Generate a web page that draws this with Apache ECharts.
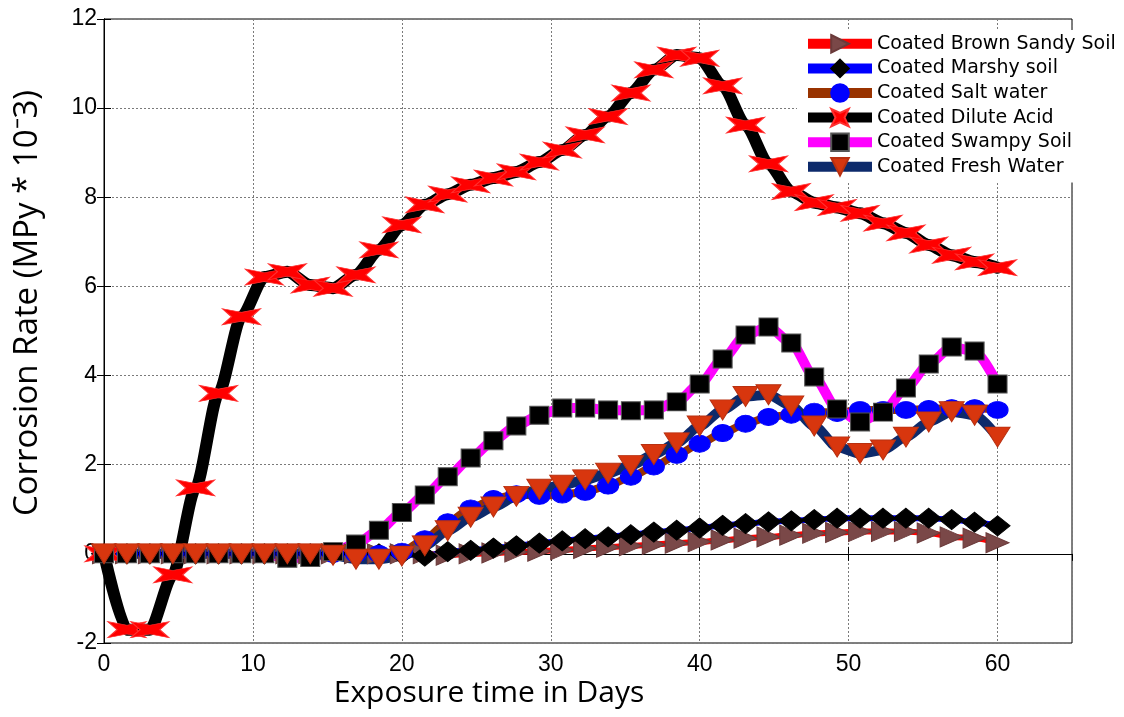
<!DOCTYPE html>
<html>
<head>
<meta charset="utf-8">
<script src="https://cdn.jsdelivr.net/npm/echarts@6/dist/echarts.min.js"></script>
<style>
html,body{margin:0;padding:0;background:#fff;}
#chart{width:1124px;height:717px;}
</style>
</head>
<body>
<div id="chart"></div>
<script>
// Exposure time samples (days)
var days = [0, 1.54, 3.08, 4.62, 6.15, 7.69, 9.23, 10.77, 12.31, 13.85, 15.38, 16.92, 18.46, 20, 21.54, 23.08, 24.62, 26.15, 27.69, 29.23, 30.77, 32.31, 33.85, 35.38, 36.92, 38.46, 40, 41.54, 43.08, 44.62, 46.15, 47.69, 49.23, 50.77, 52.31, 53.85, 55.38, 56.92, 58.46, 60];

var brownSandy = [0,0,0,0,0,0,0,0,0,0,0,0,0,0,0, -0.03, 0, 0.02, 0.04, 0.06, 0.09, 0.12, 0.15, 0.18, 0.21, 0.24, 0.27, 0.31, 0.35, 0.38, 0.42, 0.46, 0.48, 0.5, 0.5, 0.5, 0.47, 0.38, 0.35, 0.25];
var marshy = [0,0,0,0,0,0,0,0,0,0,0,0,0,0,-0.05, 0.05, 0.08, 0.13, 0.18, 0.24, 0.29, 0.34, 0.38, 0.43, 0.49, 0.53, 0.58, 0.64, 0.68, 0.72, 0.74, 0.77, 0.8, 0.8, 0.8, 0.8, 0.8, 0.77, 0.71, 0.63];
var saltWater = [0,0,0,0,0,0,0,0,0,0,0,0,0, 0.05, 0.33, 0.71, 1.02, 1.23, 1.34, 1.3, 1.33, 1.39, 1.53, 1.73, 1.96, 2.22, 2.47, 2.71, 2.92, 3.07, 3.12, 3.19, 3.16, 3.23, 3.23, 3.23, 3.25, 3.27, 3.27, 3.23];
var diluteAcid = [0, -1.7, -1.7, -0.47, 1.48, 3.6, 5.32, 6.21, 6.33, 6.03, 5.96, 6.26, 6.82, 7.38, 7.83, 8.07, 8.28, 8.43, 8.57, 8.79, 9.06, 9.4, 9.81, 10.34, 10.86, 11.19, 11.12, 10.5, 9.62, 8.75, 8.13, 7.88, 7.77, 7.64, 7.42, 7.2, 6.93, 6.7, 6.55, 6.42];
var swampy = [0,0,0,0,0,0,0,0, -0.1, -0.08, 0.05, 0.22, 0.53, 0.93, 1.32, 1.73, 2.15, 2.54, 2.87, 3.11, 3.27, 3.27, 3.23, 3.21, 3.23, 3.41, 3.81, 4.37, 4.91, 5.09, 4.73, 3.97, 3.25, 2.96, 3.18, 3.72, 4.26, 4.64, 4.55, 3.81];
var freshWater = [0,0,0,0,0,0,0,0,0,0, -0.03, -0.12, -0.12, -0.05, 0.18, 0.52, 0.82, 1.05, 1.29, 1.45, 1.54, 1.66, 1.81, 1.98, 2.23, 2.49, 2.87, 3.23, 3.53, 3.57, 3.32, 2.87, 2.4, 2.25, 2.33, 2.62, 2.96, 3.19, 3.11, 2.62];

var seriesNames = ['Coated Brown Sandy Soil', 'Coated Marshy soil', 'Coated Salt water', 'Coated Dilute Acid', 'Coated Swampy Soil', 'Coated Fresh Water'];
var xTicks = [0, 10, 20, 30, 40, 50, 60];
var yTicks = [-2, 0, 2, 4, 6, 8, 10, 12];

function pairs(vals) { return days.map(function (d, i) { return [d, vals[i]]; }); }

var SYM_BOWTIE = 'path://M0,0 L50,10 L100,0 L76,22 L100,44 L50,34 L0,44 L24,22 Z';
var SYM_DOWN = 'path://M0,0 L100,0 L50,82 Z';
var SYM_RIGHT = 'path://M0,0 L100,50 L0,100 Z';

function mk(name, vals, lineColor, lineW, symbol, symSize, fill, border) {
  return {
    name: name, type: 'line', data: pairs(vals),
    smooth: 0.25, smoothMonotone: 'x',
    symbol: symbol, symbolSize: symSize, showAllSymbol: true,
    lineStyle: { color: lineColor, width: lineW, cap: 'round', join: 'round' },
    itemStyle: { color: fill, borderColor: border || fill, borderWidth: 1, opacity: 1 },
    emphasis: { disabled: true }
  };
}

var chart = echarts.init(document.getElementById('chart'), null, { renderer: 'canvas' });
var tickFamily = 'Liberation Sans, Arial, sans-serif';
var option = {
  animation: false,
  backgroundColor: '#fff',
  grid: { left: 104, right: 52, top: 19, bottom: 74, show: true, borderColor: '#000', borderWidth: 1, backgroundColor: 'transparent' },
  xAxis: [{
    type: 'value', min: 0, max: 65, interval: 10, position: 'bottom',
    axisLine: { show: true, lineStyle: { color: '#000', width: 1 } },
    axisTick: { show: true, inside: true, length: 7, lineStyle: { color: '#000' } },
    axisLabel: { showMaxLabel: false, margin: 10, fontFamily: tickFamily, fontSize: 23, color: '#000',
      formatter: function (v) { return xTicks.indexOf(v) >= 0 ? String(v) : ''; } },
    splitLine: { show: true, lineStyle: { color: '#7a7a7a', type: [2, 2], width: 1 } }
  }, {
    type: 'value', min: 0, max: 65, interval: 10, position: 'top',
    axisLine: { show: true, lineStyle: { color: '#000' } },
    axisTick: { show: true, inside: true, length: 7, lineStyle: { color: '#000' } },
    axisLabel: { show: false }, splitLine: { show: false }
  }],
  yAxis: [{
    type: 'value', min: -2, max: 12, interval: 2, position: 'left',
    axisLine: { show: true, lineStyle: { color: '#000', width: 1 } },
    axisTick: { show: true, inside: true, length: 7, lineStyle: { color: '#000' } },
    axisLabel: { margin: 7, fontFamily: tickFamily, fontSize: 23, color: '#000',
      formatter: function (v) { return yTicks.indexOf(v) >= 0 ? String(v) : ''; } },
    splitLine: { show: true, lineStyle: { color: '#7a7a7a', type: [2, 2], width: 1 } }
  }, {
    type: 'value', min: -2, max: 12, interval: 2, position: 'right',
    axisLine: { show: true, lineStyle: { color: '#000' } },
    axisTick: { show: true, inside: true, length: 7, lineStyle: { color: '#000' } },
    axisLabel: { show: false }, splitLine: { show: false }
  }],
  legend: {
    orient: 'vertical', left: 797, top: 30, padding: [4, 4, 6, 6],
    backgroundColor: '#fff', itemWidth: 64, itemHeight: 22, itemGap: 5,
    textStyle: { fontFamily: 'DejaVu Sans, sans-serif', fontSize: 19, color: '#000', padding: [0, 0, 0, 0] },
    lineStyle: { width: 10, cap: 'butt' },
    data: seriesNames
  },
  graphic: [
    { type: 'text', x: 489, y: 693, style: { text: 'Exposure time in Days', fontFamily: 'Open Sans, sans-serif', fontSize: 30, fill: '#000', align: 'center', verticalAlign: 'middle' } },
    { type: 'text', x: 28, y: 303, rotation: Math.PI / 2, style: { text: 'Corrosion Rate (MPy * 10\u207B3)', fontFamily: 'Open Sans, sans-serif', fontSize: 33, fill: '#000', align: 'center', verticalAlign: 'middle' } }
  ],
  series: [
    mk(seriesNames[0], brownSandy, '#ff0000', 6, SYM_RIGHT, [23, 20], '#7a4848', '#6a3a3a'),
    mk(seriesNames[1], marshy, '#0000ff', 6, 'diamond', [25, 20], '#000000', '#000000'),
    mk(seriesNames[2], saltWater, '#993300', 8, 'circle', [21, 17], '#0000ff', '#0000ff'),
    mk(seriesNames[3], diluteAcid, '#000000', 12, SYM_BOWTIE, [38, 16], '#ff0000', '#ff3030'),
    mk(seriesNames[4], swampy, '#ff00ff', 10, 'rect', [19, 18], '#000000', '#555555'),
    mk(seriesNames[5], freshWater, '#0d2a6b', 10, SYM_DOWN, [25, 20], '#d8360e', '#b83010')
  ]
};
chart.setOption(option);
</script>
</body>
</html>
